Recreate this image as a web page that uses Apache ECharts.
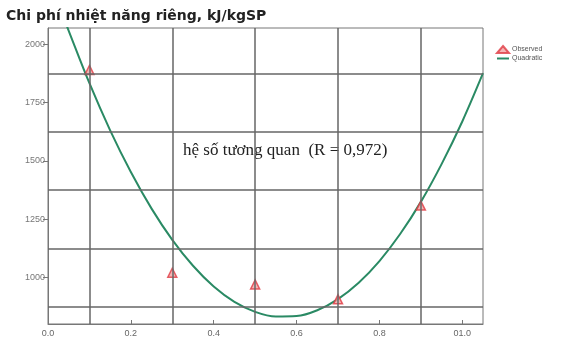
<!DOCTYPE html>
<html>
<head>
<meta charset="utf-8">
<script src="https://cdn.jsdelivr.net/npm/echarts@6/dist/echarts.min.js"></script>
<style>
  html, body { margin: 0; padding: 0; background: #fff; }
  #chart { width: 563px; height: 341px; }
</style>
</head>
<body>
<div id="chart"></div>
<script>
// du lieu quan sat
var obsX = [0.1, 0.3, 0.5, 0.7, 0.9];
var obsY = [1890, 1020, 970, 906, 1308];

// duong hoi quy bac 2 (doc tu hinh)
var fitX = [0.03, 0.05, 0.1, 0.15, 0.2, 0.25, 0.3, 0.35, 0.4, 0.45, 0.5, 0.55, 0.6, 0.65, 0.7, 0.75, 0.8, 0.85, 0.9, 0.95, 1.0, 1.05];
var fitY = [2150, 2058, 1833, 1631, 1452, 1295, 1161, 1050, 961, 895, 852, 832, 834, 859, 907, 977, 1070, 1186, 1324, 1486, 1669, 1876];

// truc
var xTicks = [0, 0.2, 0.4, 0.6, 0.8, 1.0];
var xTickLabels = ['0.0', '0.2', '0.4', '0.6', '0.8', '01.0'];
var yTicks = [1000, 1250, 1500, 1750, 2000];
var xGrid = [0.1, 0.3, 0.5, 0.7, 0.9];
var yGrid = [875, 1125, 1375, 1625, 1875];

var myChart = echarts.init(document.getElementById('chart'));

function pairs(xs, ys) {
    var out = [];
    for (var i = 0; i < xs.length; i++) {
        out.push([xs[i], ys[i]]);
    }
    return out;
}

var gridLines = [];
xGrid.forEach(function (v) { gridLines.push({ xAxis: v }); });
yGrid.forEach(function (v) { gridLines.push({ yAxis: v }); });

var option = {
    animation: false,
    title: {
        text: 'Chi phí nhiệt năng riêng, kJ/kgSP',
        left: 1,
        top: 4,
        textStyle: {
            fontFamily: 'DejaVu Sans',
            fontSize: 14,
            fontWeight: 'bold',
            color: '#222'
        }
    },
    legend: {
        orient: 'vertical',
        left: 491,
        top: 40,
        itemWidth: 12,
        itemHeight: 7,
        itemGap: 1,
        textStyle: { fontSize: 7, color: '#555', padding: [0, 0, 0, -2] },
        data: [
            { name: 'Observed', icon: 'triangle' },
            { name: 'Quadratic', itemStyle: { color: 'rgba(0,0,0,0)', borderWidth: 0 } }
        ]
    },
    grid: {
        left: 48,
        right: 80,
        top: 28,
        bottom: 17,
        show: true,
        borderColor: '#777',
        borderWidth: 1
    },
    xAxis: {
        type: 'value',
        min: 0,
        max: 1.05,
        axisLine: { lineStyle: { color: '#777', width: 1 } },
        axisTick: {
            show: true,
            inside: true,
            length: 4,
            customValues: xTicks,
            lineStyle: { color: '#777' }
        },
        axisLabel: {
            customValues: xTicks,
            fontSize: 9,
            color: '#666',
            margin: 5,
            formatter: function (v) {
                var i = xTicks.indexOf(v);
                return i >= 0 ? xTickLabels[i] : '';
            }
        },
        splitLine: { show: false }
    },
    yAxis: {
        type: 'value',
        min: 800,
        max: 2070,
        axisLine: { show: true, lineStyle: { color: '#777', width: 1 } },
        axisTick: {
            show: true,
            length: 5,
            customValues: yTicks,
            lineStyle: { color: '#777' }
        },
        axisLabel: {
            customValues: yTicks,
            fontSize: 9,
            color: '#777',
            margin: 3,
            formatter: function (v) { return String(v); }
        },
        splitLine: { show: false }
    },
    graphic: [{
        type: 'text',
        left: 183,
        top: 142,
        style: {
            text: 'hệ số tương quan  (R = 0,972)',
            font: '17px "Liberation Serif"',
            fill: '#222'
        }
    }],
    series: [
        {
            name: 'Quadratic',
            type: 'line',
            data: pairs(fitX, fitY),
            smooth: 0.35,
            symbol: 'none',
            clip: true,
            lineStyle: { color: '#2a8a64', width: 2 },
            itemStyle: { color: '#2a8a64' },
            z: 3,
            markLine: {
                silent: true,
                symbol: 'none',
                label: { show: false },
                lineStyle: { color: '#666', width: 1.5, type: 'solid' },
                data: gridLines
            }
        },
        {
            name: 'Observed',
            type: 'scatter',
            data: pairs(obsX, obsY),
            symbol: 'triangle',
            symbolSize: 9,
            itemStyle: {
                color: '#f2a3a3',
                borderColor: '#e03a42',
                borderWidth: 1.5
            },
            z: 4
        }
    ]
};

myChart.setOption(option);
</script>
</body>
</html>
